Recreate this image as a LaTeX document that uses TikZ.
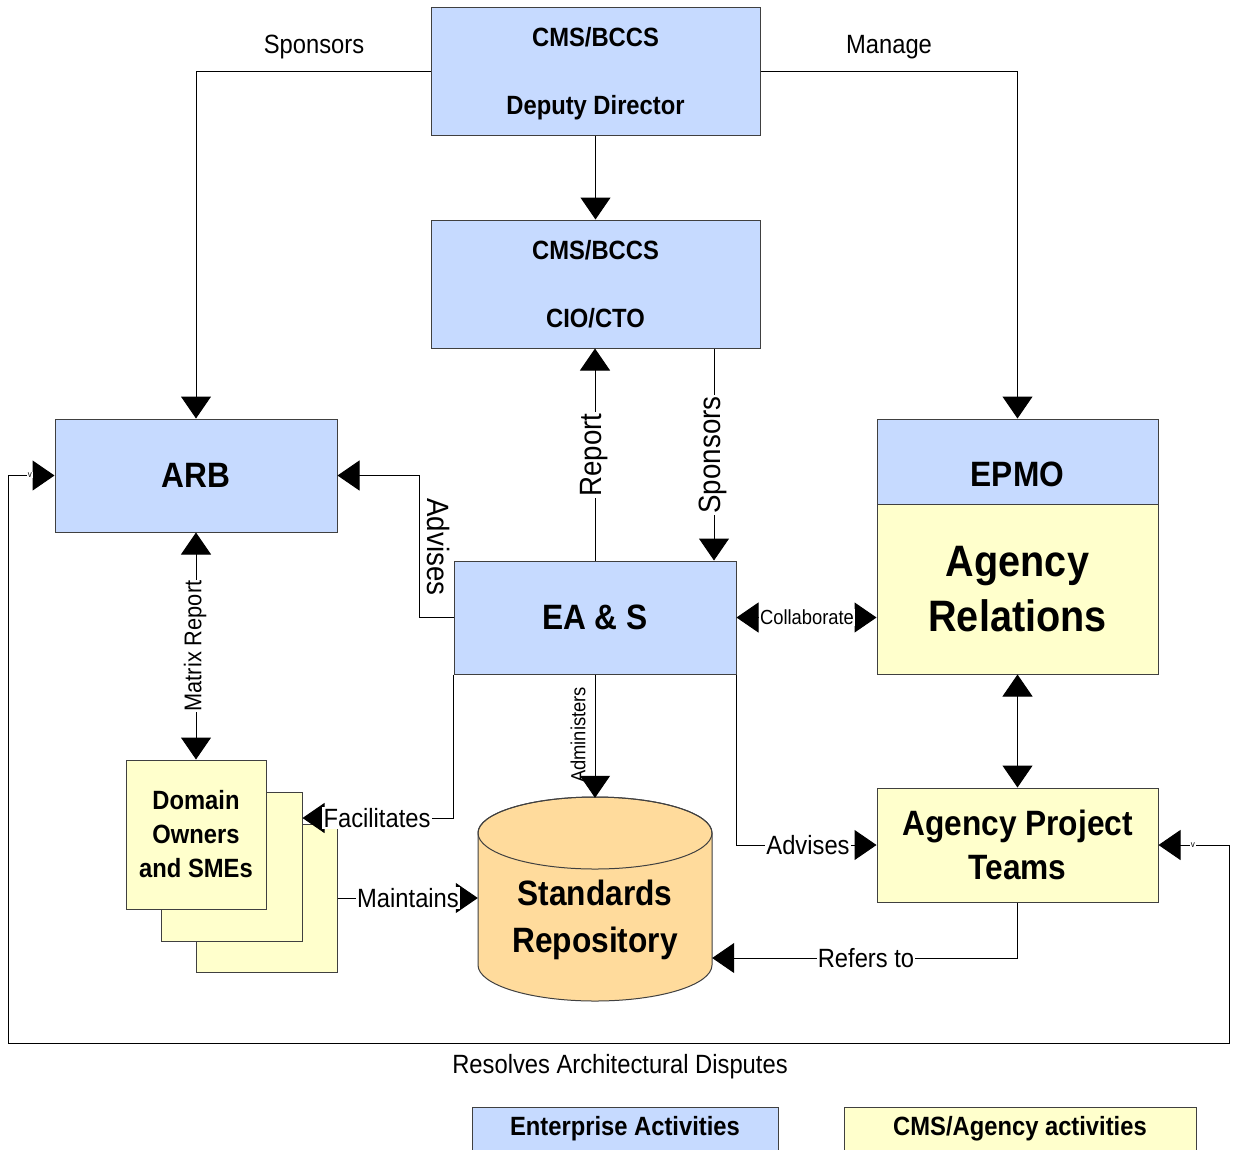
\documentclass[tikz,border=0pt]{standalone}
\usepackage{fontspec}
\setmainfont{Liberation Sans}[FakeStretch=0.9]
\usetikzlibrary{arrows.meta,calc}
\definecolor{eblue}{HTML}{C6DAFF}
\definecolor{ayellow}{HTML}{FFFFCC}
\definecolor{rorange}{HTML}{FFDB9C}
\definecolor{bordergray}{HTML}{404040}
\tikzset{
  box/.style={draw=bordergray, line width=1pt, inner sep=0pt, align=center},
  bluebox/.style={box, fill=eblue},
  yelbox/.style={box, fill=ayellow},
  conn/.style={draw=black, line width=1pt},
  tip/.style={-{Triangle[length=22pt,width=30pt]}},
  tips/.style={{Triangle[length=22pt,width=30pt]}-{Triangle[length=22pt,width=30pt]}},
  lbl/.style={fill=white, inner sep=1pt, font=\fontsize{26.4}{30}\selectfont},
  plainlbl/.style={inner sep=1pt, font=\fontsize{26.4}{30}\selectfont},
  vmark/.style={fill=white, inner sep=0.5pt, font=\fontsize{9}{10}\selectfont},
}
\begin{document}
\begin{tikzpicture}[x=1pt,y=-1pt]
\useasboundingbox (0,0) rectangle (1233,1149);
\fill[white] (0,0) rectangle (1233,1149);

% boxes
\node[bluebox, minimum width=329pt, minimum height=128pt, text depth=0pt,
      font=\bfseries\fontsize{26.4}{68}\selectfont] (dep) at (595.5,71) {CMS/BCCS\\Deputy Director};
\node[bluebox, minimum width=329pt, minimum height=128pt,
      font=\bfseries\fontsize{26.4}{68}\selectfont] (cio) at (595.5,284) {CMS/BCCS\\CIO/CTO};
\node[bluebox, minimum width=282pt, minimum height=113pt,
      font=\bfseries\fontsize{35.2}{40}\selectfont] (arb) at (196,475.5) {ARB};
\node[bluebox, minimum width=282pt, minimum height=113pt,
      font=\bfseries\fontsize{35.2}{40}\selectfont] (eas) at (595,617.5) {EA \& S};
\node[bluebox, minimum width=281pt, minimum height=85pt,
      label={[yshift=-12.5pt, font=\bfseries\fontsize{35.2}{40}\selectfont]center:EPMO}] (epmo) at (1017.5,461.5) {};
\node[yelbox, minimum width=281pt, minimum height=170pt,
      font=\bfseries\fontsize{44}{55}\selectfont] (agrel) at (1017.5,589) {Agency\\Relations};
\node[yelbox, minimum width=281pt, minimum height=114pt,
      font=\bfseries\fontsize{35.2}{44}\selectfont] (apt) at (1017.5,845) {Agency Project\\Teams};

\node[yelbox, minimum width=141pt, minimum height=148pt] (dom3) at (266.5,898) {};
\node[yelbox, minimum width=141pt, minimum height=149pt] (dom2) at (231.5,866.5) {};
\node[yelbox, minimum width=140pt, minimum height=149pt,
      font=\bfseries\fontsize{26.4}{34}\selectfont] (dom1) at (196,834.5) {Domain\\Owners\\and SMEs};

% cylinder
\filldraw[fill=rorange, draw=bordergray, line width=1pt]
  (478,833) -- (478,965) arc[start angle=180, end angle=0, x radius=117, y radius=36]
  -- (712,833) arc[start angle=0, end angle=-180, x radius=117, y radius=36] -- cycle;
\draw[bordergray, line width=1pt] (595,833) ellipse[x radius=117, y radius=36];
\node[minimum width=234pt, minimum height=203pt, inner sep=0pt] (repo) at (595,899.5) {};
\node[font=\bfseries\fontsize{35.2}{47}\selectfont, align=center, inner sep=0pt] (repotext) at (595,920) {Standards\\Repository};

% legend
\node[bluebox, minimum width=306pt, minimum height=44pt,
      font=\bfseries\fontsize{26.4}{30}\selectfont] (leg1) at (625,1129) {Enterprise Activities};
\node[yelbox, minimum width=352pt, minimum height=44pt,
      font=\bfseries\fontsize{26.4}{30}\selectfont] (leg2) at (1020,1129) {CMS/Agency activities};

% connectors
\draw[conn,tip] (dep.west) -| (arb.north);
\node[plainlbl] (lspons) at (314,47) {Sponsors};
\draw[conn,tip] (dep.east) -| (epmo.north);
\node[plainlbl] (lmanage) at (889,47) {Manage};
\draw[conn,tip] (dep.south) -- (cio.north);

\draw[conn,tip] (eas.north) -- (eas.north |- cio.south);
\node[lbl, rotate=90, font=\fontsize{30.8}{34}\selectfont] (lreport) at (594,455) {Report};

\draw[conn,tip] ([xshift=118.5pt]cio.south) -- ([xshift=119pt]eas.north);
\node[lbl, rotate=90, font=\fontsize{30.8}{34}\selectfont] (lspons2) at (713,455) {Sponsors};

\draw[conn,tip] (eas.west) -- ++(-34,0) |- (arb.east);
\node[plainlbl, rotate=-90, font=\fontsize{30.8}{34}\selectfont] (ladv1) at (439,547) {Advises};

\draw[conn,tips] (arb.south) -- (dom1.north);
\node[lbl, rotate=90, font=\fontsize{24.2}{28}\selectfont] (lmatrix) at (195,646) {Matrix Report};

\draw[conn,tip] (eas.south west) |- ([yshift=48.5pt]dom2.east);
\node[lbl, inner xsep=2pt] (lfac) at (377,818) {Facilitates};

\draw[conn,tip] (eas.south) -- (repo.north);
\node[plainlbl, rotate=90, font=\fontsize{20.4}{24}\selectfont] (ladm) at (578,735) {Administers};

\draw[conn,tip] (eas.south east) |- (apt.west);
\node[lbl] (ladv2) at (808,845) {Advises};

\draw[conn,tips] (eas.east) -- (eas.east -| agrel.west);
\node[lbl, font=\fontsize{20.4}{24}\selectfont] (lcollab) at (807,617) {Collaborate};

\draw[conn,tips] (agrel.south) -- (apt.north);

\draw[conn,tip] (dom3.east) -- (dom3.east -| repo.west);
\node[lbl] (lmaint) at (408,898) {Maintains};

\draw[conn,tip] (apt.south) |- ([yshift=-58.5pt]repo.east);
\node[lbl] (lrefers) at (866,958) {Refers to};

\draw[conn,tips] (arb.west) -- ++(-46,0) -- ++(0,567.5) -| ([xshift=71pt]apt.east) -- (apt.east);
\node[plainlbl] (lresolve) at (620,1067) {Resolves Architectural Disputes};
\node[vmark] (v1) at (30,475) {v};
\node[vmark] (v2) at (1193,845) {v};
\end{tikzpicture}
\end{document}
